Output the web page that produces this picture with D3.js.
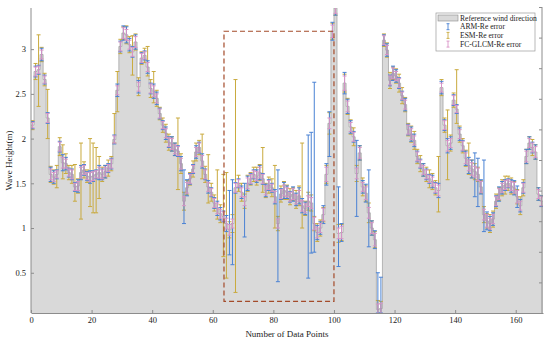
<!DOCTYPE html>
<html>
<head>
<meta charset="utf-8">
<script src="https://cdn.jsdelivr.net/npm/d3@7"></script>
<style>
  body { margin: 0; background: #fff; }
  text { font-family: "Liberation Serif", "Times New Roman", serif; fill: #222; }
</style>
</head>
<body>
<div id="container"></div>
<script>
/* DATA */
// reference wave height, one step per data point (0..168)
const refValues = [
  2.15, 2.75, 2.77, 2.94, 2.66, 2.23, 1.60, 1.57, 1.60, 1.91, 1.73, 1.72, 1.62,
  1.60, 1.46, 1.47, 1.62, 1.65, 1.58, 1.57, 1.58, 1.60, 1.62, 1.60, 1.63, 1.67,
  1.72, 1.99, 2.54, 3.03, 3.18, 3.16, 3.05, 2.97, 3.08, 2.58, 2.90, 2.93, 2.80,
  2.56, 2.53, 2.45, 2.28, 2.15, 2.06, 1.96, 1.94, 1.88, 1.86, 1.72, 1.30, 1.45,
  1.55, 1.66, 1.85, 1.90, 1.75, 1.60, 1.46, 1.40, 1.28, 1.22, 1.16, 1.13, 1.05,
  0.98, 1.05, 1.45, 1.50, 1.40, 1.30, 1.50, 1.55, 1.60, 1.58, 1.62, 1.55, 1.42,
  1.48, 1.45, 1.35, 1.05, 1.38, 1.42, 1.40, 1.35, 1.38, 1.32, 1.36, 1.25, 1.22,
  1.30, 1.28, 1.05, 0.95, 1.00, 1.15, 1.60, 2.17, 3.20, 3.46, 0.94, 0.95, 2.62,
  2.36, 2.13, 2.02, 1.61, 1.84, 1.46, 1.39, 1.17, 1.00, 0.87, 0.09, 0.10, 3.10,
  2.99, 2.65, 2.73, 2.70, 2.62, 2.48, 2.38, 2.10, 2.05, 1.98, 1.80, 1.72, 1.65,
  1.60, 1.55, 1.52, 1.45, 1.42, 2.57, 2.15, 1.92, 1.95, 2.43, 2.33, 2.05, 1.92,
  1.78, 1.70, 1.66, 1.63, 1.60, 1.46, 1.15, 1.08, 1.05, 1.10, 1.30, 1.38, 1.45,
  1.48, 1.50, 1.47, 1.45, 1.35, 1.25, 1.45, 1.80, 1.95, 1.90, 1.85, 1.38, 1.30
];

// half error (m) for each model at each point
const armErr = [
  0.04, 0.06, 0.05, 0.07, 0.05, 0.06, 0.08, 0.07, 0.05, 0.06, 0.09, 0.07, 0.05,
  0.06, 0.05, 0.07, 0.08, 0.06, 0.05, 0.07, 0.06, 0.05, 0.08, 0.06, 0.07, 0.05,
  0.06, 0.05, 0.07, 0.06, 0.08, 0.09, 0.07, 0.06, 0.08, 0.07, 0.06, 0.05, 0.07,
  0.06, 0.08, 0.07, 0.06, 0.05, 0.07, 0.06, 0.08, 0.07, 0.06, 0.08, 0.07, 0.09,
  0.06, 0.05, 0.07, 0.06, 0.08, 0.06, 0.07, 0.05, 0.06, 0.08, 0.07, 0.06, 0.09,
  0.08, 0.07, 0.06, 0.05, 0.07, 0.06, 0.08, 0.06, 0.05, 0.07, 0.08, 0.06, 0.07,
  0.06, 0.05, 0.08, 0.07, 0.06, 0.09, 0.07, 0.06, 0.08, 0.07, 0.09, 0.08, 0.07,
  0.08, 0.09, 0.10, 0.08, 0.07, 0.10, 0.12, 0.09, 0.10, 0.08, 0.09, 0.10, 0.12,
  0.08, 0.07, 0.06, 0.09, 0.08, 0.07, 0.10, 0.09, 0.08, 0.10, 0.09, 0.08, 0.06,
  0.07, 0.06, 0.08, 0.07, 0.06, 0.05, 0.07, 0.06, 0.08, 0.07, 0.06, 0.05, 0.07,
  0.06, 0.05, 0.07, 0.06, 0.08, 0.07, 0.06, 0.08, 0.07, 0.06, 0.05, 0.07, 0.06,
  0.08, 0.09, 0.10, 0.09, 0.10, 0.08, 0.09, 0.10, 0.08, 0.07, 0.06, 0.08, 0.07,
  0.06, 0.05, 0.07, 0.08, 0.12, 0.07, 0.06, 0.08, 0.07, 0.06, 0.08, 0.07, 0.06
];
const esmErr = [
  0.05, 0.09, 0.10, 0.08, 0.07, 0.10, 0.09, 0.08, 0.12, 0.10, 0.09, 0.11, 0.08,
  0.10, 0.09, 0.08, 0.10, 0.09, 0.07, 0.11, 0.10, 0.09, 0.10, 0.08, 0.07, 0.09,
  0.08, 0.10, 0.09, 0.08, 0.07, 0.10, 0.09, 0.08, 0.09, 0.10, 0.07, 0.08, 0.09,
  0.10, 0.08, 0.09, 0.07, 0.08, 0.10, 0.09, 0.08, 0.07, 0.09, 0.11, 0.10, 0.08,
  0.07, 0.09, 0.10, 0.08, 0.11, 0.09, 0.08, 0.10, 0.09, 0.12, 0.10, 0.09, 0.11,
  0.09, 0.10, 0.08, 0.09, 0.10, 0.08, 0.09, 0.07, 0.08, 0.10, 0.09, 0.11, 0.08,
  0.09, 0.10, 0.12, 0.08, 0.09, 0.10, 0.08, 0.09, 0.07, 0.10, 0.11, 0.09, 0.08,
  0.10, 0.09, 0.08, 0.10, 0.09, 0.08, 0.10, 0.12, 0.09, 0.08, 0.10, 0.09, 0.10,
  0.09, 0.08, 0.10, 0.09, 0.08, 0.10, 0.09, 0.11, 0.08, 0.09, 0.10, 0.08, 0.07,
  0.08, 0.09, 0.07, 0.08, 0.10, 0.09, 0.08, 0.07, 0.09, 0.10, 0.08, 0.09, 0.07,
  0.08, 0.10, 0.09, 0.08, 0.07, 0.09, 0.08, 0.10, 0.09, 0.08, 0.10, 0.09, 0.08,
  0.09, 0.08, 0.10, 0.09, 0.08, 0.07, 0.09, 0.08, 0.10, 0.09, 0.08, 0.07, 0.09,
  0.10, 0.08, 0.09, 0.07, 0.08, 0.10, 0.09, 0.08, 0.07, 0.09, 0.08, 0.07, 0.06
];
const fcErr = [
  0.03, 0.05, 0.04, 0.05, 0.04, 0.05, 0.06, 0.05, 0.04, 0.05, 0.06, 0.05, 0.04,
  0.05, 0.04, 0.05, 0.06, 0.05, 0.04, 0.05, 0.05, 0.04, 0.06, 0.05, 0.05, 0.04,
  0.05, 0.04, 0.05, 0.05, 0.06, 0.06, 0.05, 0.05, 0.06, 0.05, 0.05, 0.04, 0.05,
  0.05, 0.06, 0.05, 0.05, 0.04, 0.05, 0.05, 0.06, 0.05, 0.05, 0.06, 0.05, 0.06,
  0.05, 0.04, 0.05, 0.05, 0.06, 0.05, 0.05, 0.04, 0.05, 0.06, 0.05, 0.05, 0.06,
  0.06, 0.05, 0.05, 0.04, 0.05, 0.05, 0.06, 0.05, 0.04, 0.05, 0.06, 0.05, 0.05,
  0.05, 0.04, 0.06, 0.05, 0.05, 0.06, 0.05, 0.05, 0.06, 0.05, 0.06, 0.06, 0.05,
  0.06, 0.06, 0.07, 0.06, 0.05, 0.07, 0.08, 0.06, 0.07, 0.06, 0.06, 0.07, 0.08,
  0.06, 0.05, 0.05, 0.06, 0.06, 0.05, 0.07, 0.06, 0.06, 0.07, 0.06, 0.06, 0.05,
  0.05, 0.05, 0.06, 0.05, 0.05, 0.04, 0.05, 0.05, 0.06, 0.05, 0.05, 0.04, 0.05,
  0.05, 0.04, 0.05, 0.05, 0.06, 0.05, 0.05, 0.06, 0.05, 0.05, 0.04, 0.05, 0.05,
  0.06, 0.06, 0.07, 0.06, 0.07, 0.06, 0.06, 0.07, 0.06, 0.05, 0.05, 0.06, 0.05,
  0.05, 0.04, 0.05, 0.06, 0.07, 0.05, 0.05, 0.06, 0.05, 0.05, 0.06, 0.05, 0.05
];

// the long bars: [point, low, high]
const armLong = [
  [50, 1.05, 1.65], [65, 0.70, 1.42], [66, 0.59, 1.54], [70, 0.90, 1.50],
  [81, 0.40, 1.65], [91, 0.44, 2.04], [92, 0.72, 2.07], [93, 0.73, 2.63],
  [98, 1.80, 2.30], [101, 0.57, 1.46], [107, 1.13, 1.98], [111, 0.79, 1.65],
  [114, 0.05, 0.50], [115, 0.05, 0.45], [146, 1.35, 1.84], [147, 1.24, 1.78],
  [149, 0.96, 1.76]
];
const esmLong = [
  [2, 2.36, 3.16], [5, 2.00, 2.55], [8, 1.45, 1.70], [10, 1.55, 1.93],
  [14, 1.30, 1.71], [16, 1.10, 1.95], [19, 1.24, 2.00], [20, 1.17, 1.95],
  [21, 1.17, 1.90], [22, 1.33, 1.80], [27, 1.95, 2.28], [28, 2.30, 2.75],
  [33, 2.71, 3.15], [38, 2.70, 3.03], [40, 2.40, 2.75], [48, 1.43, 2.23],
  [56, 1.55, 2.05], [58, 1.28, 1.82], [61, 1.10, 1.65], [63, 0.68, 1.60],
  [64, 0.44, 1.62], [67, 0.28, 2.66], [76, 1.40, 1.90], [80, 1.00, 1.70],
  [89, 1.00, 1.95], [134, 1.18, 1.80], [137, 1.54, 2.32], [140, 2.17, 2.77],
  [144, 1.60, 1.95]
];

// dashed highlight: [x0, x1, y0, y1]
const highlightBox = [63.7, 100, 0.18, 3.2];

const xTicks = [0, 20, 40, 60, 80, 100, 120, 140, 160];
const yTicks = [0.5, 1, 1.5, 2, 2.5, 3];
const legendLabels = ["Reference wind direction", "ARM-Re error", "ESM-Re error", "FC-GLCM-Re error"];

/* LAYOUT */
const width = 550, height = 341;
const plot = { left: 31, right: 543, top: 8, bottom: 313 };
const colors = { ref: "#d9d9d9", arm: "#4a82d4", esm: "#c9aa3e", fc: "#d993c6" };

const svg = d3.select("#container").append("svg")
  .attr("width", width).attr("height", height);

const x = d3.scaleLinear().domain([0, 169]).range([plot.left, plot.right]);
const y = d3.scaleLinear().domain([0.05, 3.46]).range([plot.bottom, plot.top]);
const yRight = d3.scaleLinear().domain([0, 10]).range([plot.bottom, 7]);

svg.append("clipPath").attr("id", "clip")
  .append("rect")
  .attr("x", plot.left).attr("y", plot.top)
  .attr("width", plot.right - plot.left).attr("height", plot.bottom - plot.top);

const g = svg.append("g").attr("clip-path", "url(#clip)");

// reference stairs
const steps = refValues.map((v, i) => [i, v]).concat([[refValues.length, refValues[refValues.length - 1]]]);
g.append("path")
  .datum(steps)
  .attr("d", d3.area().curve(d3.curveStepAfter)
    .x(d => x(d[0])).y0(y(0.05)).y1(d => y(d[1])))
  .attr("fill", colors.ref);
g.append("path")
  .datum(steps)
  .attr("d", d3.line().curve(d3.curveStepAfter).x(d => x(d[0])).y(d => y(d[1])))
  .attr("fill", "none")
  .attr("stroke", "#a6a6a6")
  .attr("stroke-width", 0.8);

// error bars
function errData(errs, longs) {
  const rows = refValues.map((v, i) => ({ i, lo: v - errs[i], hi: v + errs[i] }));
  longs.forEach(([i, lo, hi]) => { rows[i].lo = lo; rows[i].hi = hi; });
  return rows;
}

function drawErr(rows, color, cls) {
  const cap = 2;
  const eg = g.append("g").attr("class", cls)
    .attr("stroke", color).attr("stroke-width", 1).attr("fill", "none");
  eg.selectAll("path")
    .data(rows)
    .join("path")
    .attr("d", d => {
      const cx = x(d.i + 0.5), y0 = y(d.lo), y1 = y(d.hi);
      return `M${cx},${y0}V${y1}M${cx - cap},${y1}H${cx + cap}M${cx - cap},${y0}H${cx + cap}`;
    });
}

drawErr(errData(esmErr, esmLong), colors.esm, "esm");
drawErr(errData(armErr, armLong), colors.arm, "arm");
drawErr(errData(fcErr, []), colors.fc, "fc");

// dashed box
svg.append("rect")
  .attr("x", x(highlightBox[0]))
  .attr("y", y(highlightBox[3]))
  .attr("width", x(highlightBox[1]) - x(highlightBox[0]))
  .attr("height", y(highlightBox[2]) - y(highlightBox[3]))
  .attr("fill", "none")
  .attr("stroke", "#a44b2a")
  .attr("stroke-width", 1.2)
  .attr("stroke-dasharray", "5,3");

/* AXES */
const axisColor = "#8c8c8c";

const xAxis = svg.append("g")
  .attr("transform", `translate(0,${plot.bottom})`)
  .call(d3.axisBottom(x).tickValues(xTicks).tickSizeInner(-3).tickSizeOuter(0).tickPadding(4));

const yAxis = svg.append("g")
  .attr("transform", `translate(${plot.left},0)`)
  .call(d3.axisLeft(y).tickValues(yTicks).tickFormat(d3.format("")).tickSizeInner(-3).tickSizeOuter(0).tickPadding(5));

const rAxis = svg.append("g")
  .attr("transform", `translate(${plot.right - 1},0)`)
  .call(d3.axisRight(yRight).ticks(10).tickSizeInner(-3).tickSizeOuter(0).tickFormat(""));

[xAxis, yAxis, rAxis].forEach(a => {
  a.select(".domain").attr("stroke", axisColor);
  a.selectAll(".tick line").attr("stroke", axisColor);
  a.selectAll("text").attr("font-size", 8.5).attr("fill", "#222")
    .attr("font-family", "Liberation Serif, serif");
});
yAxis.select(".domain").attr("d", `M0,${plot.bottom}V${plot.top}`);
rAxis.select(".domain").attr("d", `M0,${plot.bottom}V7`);

svg.append("text")
  .attr("transform", `translate(12,${(plot.top + plot.bottom) / 2}) rotate(-90)`)
  .attr("text-anchor", "middle")
  .attr("font-size", 9)
  .text("Wave Height(m)");

svg.append("text")
  .attr("x", (plot.left + plot.right) / 2)
  .attr("y", 337)
  .attr("text-anchor", "middle")
  .attr("font-size", 9)
  .text("Number of Data Points");

/* LEGEND */
const lg = svg.append("g").attr("transform", "translate(436,13)");
lg.append("rect")
  .attr("width", 99).attr("height", 38)
  .attr("fill", "#fff").attr("stroke", "#9a9a9a").attr("stroke-width", 0.7);

const legendColors = [colors.ref, colors.arm, colors.esm, colors.fc];
legendLabels.forEach((label, k) => {
  const cy = 5 + k * 8.7;
  if (k === 0) {
    lg.append("rect").attr("x", 2).attr("y", cy - 3).attr("width", 20).attr("height", 6)
      .attr("fill", colors.ref).attr("stroke", "#8a8a8a").attr("stroke-width", 0.6);
  } else {
    lg.append("path")
      .attr("d", `M12,${cy - 3}V${cy + 3}M10.5,${cy - 3}H13.5M10.5,${cy + 3}H13.5`)
      .attr("stroke", legendColors[k]).attr("stroke-width", 0.9).attr("fill", "none");
  }
  lg.append("text").attr("x", 24).attr("y", cy + 2.6)
    .attr("font-size", 7.6).text(label);
});
</script>
</body>
</html>
